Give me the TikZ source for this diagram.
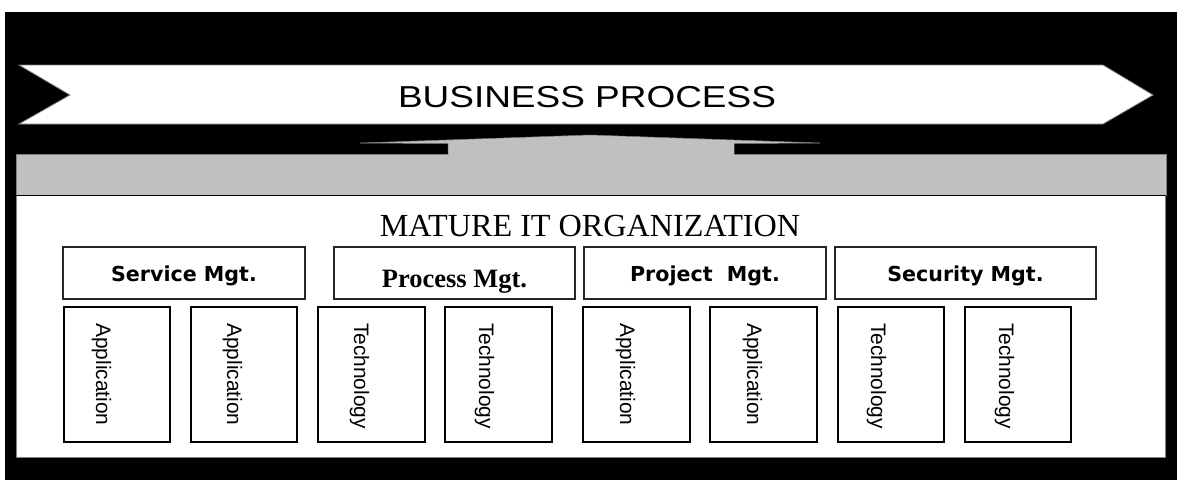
\documentclass[tikz,border=0pt]{standalone}
\usepackage{fontspec}
\usepackage{graphicx}
\setmainfont{Liberation Serif}
\newfontfamily\arialf{Liberation Sans}
\newfontfamily\verdf{DejaVu Sans}
\definecolor{bandgray}{HTML}{C0C0C0}
\definecolor{edgegray}{HTML}{808080}
\tikzset{
  mgtbox/.style={draw=black!85, line width=1.5pt, fill=white},
  colbox/.style={draw=black, line width=1.5pt, fill=white},
  mgtlabel/.style={inner sep=0pt, anchor=base, font=\verdf\bfseries\fontsize{20.6}{24}\selectfont},
  collabel/.style={inner sep=0pt, rotate=-90, anchor=base west, font=\arialf\fontsize{20.9}{24}\selectfont},
}
\begin{document}
\begin{tikzpicture}[x=1pt, y=-1pt]
\useasboundingbox (0,0) rectangle (1177,480);
% black background
\fill[black] (5,12) rectangle (1177,480);
% business process arrow
\filldraw[fill=white, draw=edgegray, line width=0.8pt]
  (19,65) -- (1103,65) -- (1153,95) -- (1103,124) -- (19,124) -- (70,95) -- cycle;
\node[inner sep=0pt, anchor=base] (bp) at (587,107)
  {\scalebox{1.22}[1]{\arialf\fontsize{30.3}{36}\selectfont BUSINESS PROCESS}};
% grey band
\filldraw[fill=bandgray, draw=edgegray, line width=0.8pt] (16,154) rectangle (1166,195);
% flat upward arrow from band
\filldraw[fill=bandgray, draw=edgegray, line width=0.5pt]
  (448,154.5) -- (448,143.5) -- (360,143) -- (590,135) -- (820,143) -- (734,143.5) -- (734,154.5);
\fill[bandgray] (448.5,143) rectangle (733.5,156);
% white panel
\filldraw[fill=white, draw=edgegray, line width=0.8pt] (16,195) rectangle (1165,457);
\draw[black, line width=1.3pt] (16,195.5) -- (1166,195.5);
\node[inner sep=0pt, anchor=base, font=\fontsize{32.2}{38}\selectfont] (mit) at (590,236) {MATURE IT ORGANIZATION};
% management boxes
\draw[mgtbox] (63,247) rectangle (305,299);
\draw[mgtbox] (334,247) rectangle (575,299);
\draw[mgtbox] (584,247) rectangle (826,299);
\draw[mgtbox] (835,247) rectangle (1096,299);
\node[mgtlabel] (svc) at (184,281) {Service Mgt.};
\begin{scope}
\clip (334,247) rectangle (575,298);
\node[inner sep=0pt, anchor=base, font=\bfseries\fontsize{26.5}{30}\selectfont] (prc) at (454.5,287) {Process Mgt.};
\end{scope}
\node[mgtlabel] (prj) at (705,281) {Project\ \ Mgt.};
\node[mgtlabel] (sec) at (965.5,281) {Security Mgt.};
% column boxes
\foreach \l/\r/\o/\t [count=\i] in {64/170/32/Application, 191/297/36/Application, 318/425/36/Technology, 445/552/34/Technology, 583/690/37/Application, 710/817/37/Application, 838/944/33/Technology, 965/1071/34/Technology}{
  \draw[colbox] (\l,307) rectangle (\r,442);
  \node[collabel] (col\i) at (\l+\o,323) {\t};
}
\end{tikzpicture}
\end{document}
